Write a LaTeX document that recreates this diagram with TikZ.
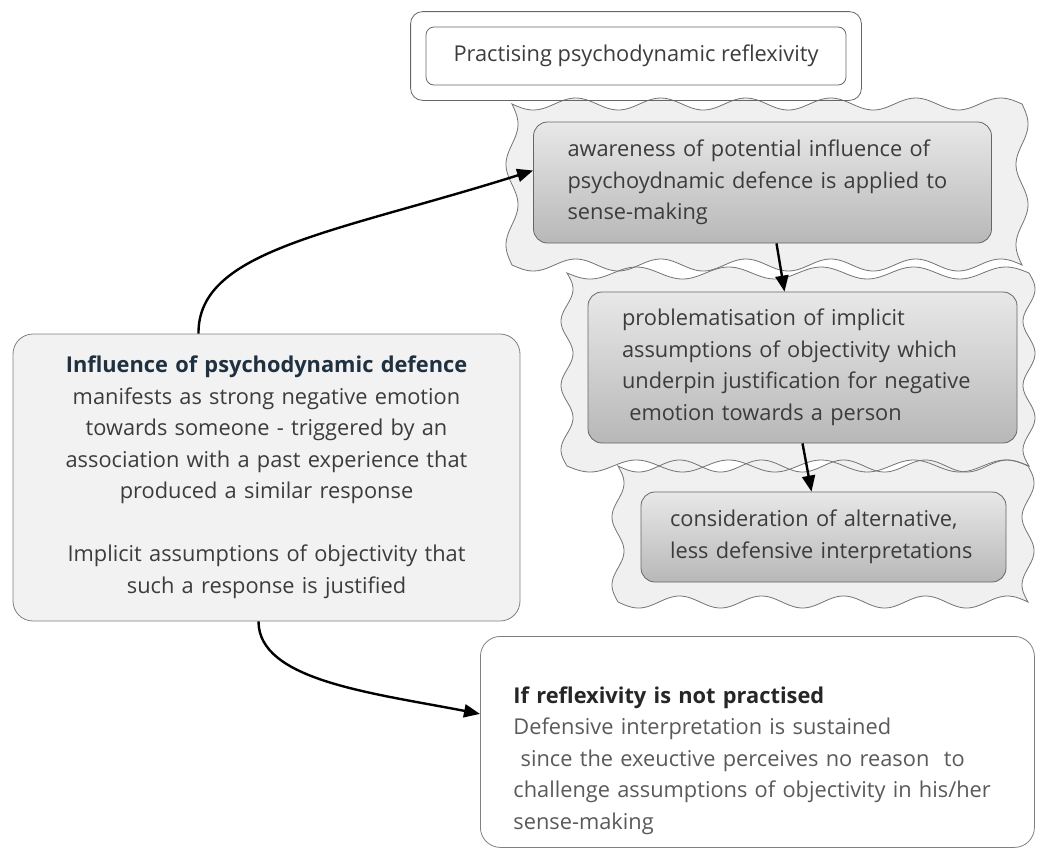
\documentclass[tikz,border=0pt]{standalone}
\usepackage{fontspec}
\setmainfont{Open Sans}
\usetikzlibrary{arrows.meta,fit}
\pgfdeclarelayer{background}
\pgfsetlayers{background,main}
\definecolor{headblue}{HTML}{1F3040}
\definecolor{bodygray}{HTML}{3C3C3C}
\definecolor{softgray}{HTML}{5A5A5A}
% wavy outline round a rectangle: #1 style, (#2,#3) top left, (#4,#5) bottom right
\newcommand{\wavyrect}[5]{%
    \pgfmathtruncatemacro{\wnx}{max(1,round((#4-#2)/88))}%
    \pgfmathtruncatemacro{\wny}{max(1,round((#5-#3)/66))}%
    \path[#1] plot[domain=0:1, samples=160] ({#2+\x*(#4-#2)}, {#3+6*sin(\x*\wnx*360)})
        -- plot[domain=0:1, samples=80] ({#4+6*sin(\x*\wny*360)}, {#3+\x*(#5-#3)})
        -- plot[domain=1:0, samples=160] ({#2+\x*(#4-#2)}, {#5+6*sin(\x*\wnx*360)})
        -- plot[domain=1:0, samples=80] ({#2+6*sin(\x*\wny*360)}, {#3+\x*(#5-#3)}) -- cycle;
}
\tikzset{
    titlebox/.style={draw=black!60, rounded corners=4pt, align=center},
    titleframe/.style={draw=black!60, rounded corners=6pt},
    stepbox/.style={draw=black!60, top color=black!9, bottom color=black!28,
        rounded corners=7pt, align=left, inner xsep=17pt, text=bodygray},
    mainbox/.style={draw=black!50, fill=black!5, rounded corners=10pt,
        align=center, text=bodygray},
    plainbox/.style={draw=black!50, fill=white, rounded corners=10pt,
        align=left, text=softgray},
    link/.style={-{Triangle[length=8pt,width=6.5pt]}, line width=1.2pt, black}
}
\begin{document}
\begin{tikzpicture}[x=0.5pt, y=-0.5pt, font=\fontsize{10.9}{15.75}\selectfont]
    \useasboundingbox (0,0) rectangle (1037,847);
    % heading
    \node[titlebox, minimum width=210pt, minimum height=29pt, text=bodygray] (title) at (636,56) {Practising psychodynamic reflexivity};
    \node[titleframe, fit=(title), inner sep=7.5pt] (frame) {};
    % reflexive steps
    \node[stepbox, text width=195pt, minimum height=60.5pt] (aware) at (762.5,182.5)
        {awareness of potential influence of\\ psychoydnamic defence is applied to\\ sense-making};
    \node[stepbox, text width=180.5pt, minimum height=75.5pt] (problem) at (802.5,367.5)
        {problematisation of implicit\\ assumptions of objectivity which\\ underpin justification for negative\\ \ emotion towards a person};
    \node[stepbox, text width=153.5pt, inner xsep=14.5pt, minimum height=45pt] (consider) at (823.5,537)
        {consideration of alternative,\\ less defensive interpretations};
    % defence
    \node[mainbox, text width=230pt, inner xsep=11.75pt, minimum height=143.5pt] (defence) at (266.5,477.5)
        {\textcolor{headblue}{\textbf{Influence of psychodynamic defence}}\\ manifests as strong negative emotion\\ towards someone - triggered by an\\ association with a past experience that\\ produced a similar response\\[15.75pt] Implicit assumptions of objectivity that\\ such a response is justified};
    % no reflexivity
    \node[plainbox, anchor=north west, text width=244pt, inner xsep=16.5pt, inner ysep=0pt] (notpract) at (480,636)
        {\rule{0pt}{33.5pt}\textcolor{black!85}{\textbf{If reflexivity is not practised}}\\ Defensive interpretation is sustained\\ \ since the exeuctive perceives no reason\ \ to\\ challenge assumptions of objectivity in his/her\\ sense-making\rule[-9pt]{0pt}{9pt}};
    % wavy backgrounds
    \begin{pgfonlayer}{background}
        \wavyrect{fill=black!6}{512}{104}{1022}{265}
        \wavyrect{fill=black!6}{567}{273}{1029}{466}
        \wavyrect{fill=black!6}{618}{466}{1028}{602}
        \wavyrect{draw=black!55}{512}{104}{1022}{265}
        \wavyrect{draw=black!55}{567}{273}{1029}{466}
        \wavyrect{draw=black!55}{618}{466}{1028}{602}
    \end{pgfonlayer}
    % connectors
    \draw[link] ([xshift=-34pt]defence.north) .. controls +(-1,-84) and +(-198,62.5) .. ([yshift=6pt]aware.west);
    \draw[link] ([xshift=7pt]aware.south) -- ([xshift=-9pt]problem.north);
    \draw[link] (problem.south) -- ([xshift=-6pt]consider.north);
    \draw[link] ([xshift=-4pt]defence.south) .. controls +(0,59) and +(-108,-21) .. ([yshift=14pt]notpract.west);
\end{tikzpicture}
\end{document}
